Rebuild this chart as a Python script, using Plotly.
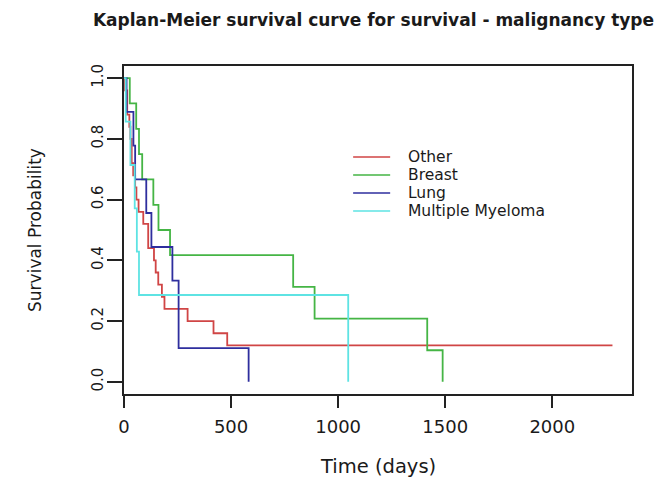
import plotly.graph_objects as go

# ---- data (Kaplan-Meier step estimates) ----
groups = ["Other", "Breast", "Lung", "Multiple Myeloma"]
colors = ["#d04545", "#45b545", "#2e2e9e", "#5ee3e3"]

other_t = [0, 5, 15, 25, 30, 36, 43, 52, 58, 68, 90, 113, 140, 148, 160, 177, 189, 297, 418, 482, 2281]
other_s = [1.0, 0.96, 0.88, 0.84, 0.80, 0.72, 0.68, 0.64, 0.60, 0.56, 0.52, 0.44, 0.40, 0.36, 0.32, 0.28, 0.24, 0.20, 0.16, 0.12, 0.12]

breast_t = [0, 27, 57, 70, 85, 137, 161, 215, 790, 890, 1416, 1488]
breast_s = [1.0, 0.917, 0.833, 0.75, 0.667, 0.583, 0.5, 0.417, 0.3125, 0.208, 0.104, 0.0]

lung_t = [0, 12, 44, 52, 104, 128, 226, 255, 582]
lung_s = [1.0, 0.889, 0.778, 0.667, 0.556, 0.444, 0.333, 0.111, 0.0]

mm_t = [0, 8, 30, 50, 60, 70, 1047]
mm_s = [1.0, 0.857, 0.714, 0.571, 0.429, 0.286, 0.0]

x_ticks = [0, 500, 1000, 1500, 2000]
y_ticks = [0.0, 0.2, 0.4, 0.6, 0.8, 1.0]

title_text = "Kaplan-Meier survival curve for survival - malignancy type"
x_title = "Time (days)"
y_title = "Survival Probability"

series = [(other_t, other_s), (breast_t, breast_s), (lung_t, lung_s), (mm_t, mm_s)]

# ---- layout geometry (pixels) ----
W, H = 656, 481
L, R, T, B = 124, 631.7, 66, 394
FONT = "DejaVu Sans"
TXT = "#1a1a1a"

def px2x(px):
    return (px - L) / (R - L)

def py2y(py):
    return (B - py) / (B - T)

fig = go.Figure()
for name, col, (t, s) in zip(groups, colors, series):
    fig.add_trace(go.Scatter(x=t, y=s, mode="lines", name=name,
                             line=dict(color=col, width=1.8, shape="hv"),
                             showlegend=False))

xmax = max(other_t + breast_t + lung_t + mm_t) * 1.04

fig.update_layout(
    width=W, height=H,
    margin=dict(l=L, r=W - R, t=T, b=H - B),
    paper_bgcolor="white", plot_bgcolor="white",
    font=dict(family=FONT, color=TXT),
    title=dict(text="<b>" + title_text + "</b>", x=373.5 / W, xref="container",
               xanchor="center", y=1 - 20 / H, yref="container", yanchor="middle",
               font=dict(size=17, family=FONT, color=TXT)),
)
fig.update_xaxes(range=[0, xmax], tickvals=x_ticks, ticks="outside", ticklen=12,
                 tickwidth=1.5, tickcolor="#222", showline=True, linecolor="#222",
                 linewidth=1.5, mirror=True, showgrid=False, zeroline=False,
                 tickfont=dict(size=18, family=FONT, color=TXT), ticklabelstandoff=4)
fig.update_yaxes(range=[-0.04, 1.04], tickvals=y_ticks, tickformat=".1f",
                 ticks="outside", ticklen=15, tickwidth=1.5, tickcolor="#222",
                 showline=True, linecolor="#222", linewidth=1.5, mirror=True,
                 showgrid=False, zeroline=False, tickangle=-90,
                 tickfont=dict(size=15, family=FONT, color=TXT), ticklabelstandoff=-2)

# axis titles
fig.add_annotation(text=x_title, xref="paper", yref="paper", x=0.5, y=py2y(466),
                   xanchor="center", yanchor="middle", showarrow=False,
                   font=dict(size=19.5, family=FONT, color=TXT))
fig.add_annotation(text=y_title, xref="paper", yref="paper", x=px2x(35), y=0.5,
                   xanchor="center", yanchor="middle", showarrow=False, textangle=-90,
                   font=dict(size=17, family=FONT, color=TXT))

# legend (drawn as keys + labels)
rows_py = [157.0, 175.0, 193.0, 211.0]
for name, col, py in zip(groups, colors, rows_py):
    fig.add_shape(type="line", xref="paper", yref="paper", x0=px2x(353), x1=px2x(390),
                  y0=py2y(py), y1=py2y(py), line=dict(color=col, width=1.6))
    fig.add_annotation(text=name, xref="paper", yref="paper", x=px2x(405.5), y=py2y(py),
                       xanchor="left", yanchor="middle", showarrow=False,
                       font=dict(size=15.5, family=FONT, color=TXT))

fig.write_html("out.html", config={"displayModeBar": False},
               post_script="document.body.style.margin='0px';")
